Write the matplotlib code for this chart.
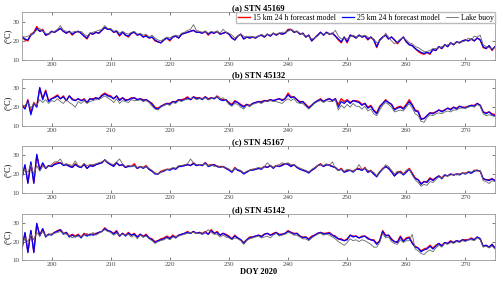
import matplotlib
matplotlib.use("Agg")
import matplotlib.pyplot as plt
import numpy as np

plt.rcParams['font.family'] = ['Liberation Serif', 'DejaVu Serif']

# day of year, half-day steps 195 .. 275
doy = np.arange(195, 275.01, 0.5)

stations = ["(a) STN 45169", "(b) STN 45132", "(c) STN 45167", "(d) STN 45142"]
labels = ["15 km 24 h forecast model", "25 km 24 h forecast model", "Lake buoy"]

# --- (a) STN 45169
a_red = [22.0, 20.5, 20.0, 23.5, 24.5, 27.5, 25.0, 26.0, 23.0, 23.5,
         25.0, 24.5, 25.5, 26.5, 25.0, 24.0, 25.0, 23.0, 24.5, 25.0,
         24.0, 22.5, 21.0, 24.0, 23.5, 24.5, 24.0, 25.5, 27.0, 26.0,
         26.0, 24.5, 25.0, 22.5, 24.5, 23.0, 22.0, 24.0, 24.5, 23.0,
         23.5, 22.0, 23.0, 21.5, 22.0, 20.0, 19.5, 19.0, 20.5, 21.5,
         20.0, 22.0, 22.5, 21.5, 23.5, 24.0, 24.5, 25.0, 25.5, 24.5,
         24.5, 24.0, 25.0, 23.0, 24.5, 24.0, 25.0, 23.5, 24.0, 24.5,
         23.5, 21.5, 20.5, 22.5, 23.5, 21.0, 22.0, 21.5, 22.0, 21.5,
         22.5, 23.0, 22.0, 23.5, 22.5, 24.0, 23.0, 24.0, 23.5, 24.0,
         26.0, 26.0, 24.5, 25.0, 23.5, 24.0, 22.0, 23.0, 20.0, 21.5,
         23.0, 24.5, 23.0, 24.5, 23.5, 24.0, 22.5, 20.5, 19.0, 22.0,
         19.0, 23.0, 22.5, 21.5, 23.0, 22.0, 22.5, 20.5, 22.0, 20.5,
         16.5, 20.5, 22.0, 23.0, 21.0, 22.0, 20.5, 18.5, 20.5, 22.0,
         19.5, 18.0, 17.5, 16.0, 14.5, 13.5, 13.0, 14.0, 13.0, 15.5,
         15.0, 17.0, 16.0, 18.0, 17.0, 19.0, 18.0, 19.5, 19.0, 20.0,
         20.5, 20.0, 21.0, 20.0, 21.5, 20.5, 16.5, 16.0, 17.5, 15.0,
         17.0]
a_blue = [22.0, 21.0, 20.5, 23.0, 24.0, 26.5, 25.0, 25.5, 23.0, 23.5,
          25.0, 24.5, 25.5, 26.5, 25.0, 24.0, 25.0, 23.5, 24.5, 25.0,
          24.0, 22.5, 21.5, 24.0, 23.5, 24.5, 24.0, 25.5, 27.0, 26.0,
          26.0, 24.5, 25.0, 23.0, 24.5, 23.0, 22.5, 24.0, 24.5, 23.0,
          23.5, 22.0, 22.5, 21.5, 22.0, 20.5, 19.5, 19.0, 20.5, 21.5,
          20.5, 22.0, 22.5, 21.5, 23.5, 24.0, 24.5, 25.0, 25.5, 24.5,
          24.5, 24.0, 25.0, 23.5, 24.5, 24.0, 25.0, 23.5, 24.0, 24.5,
          23.5, 21.5, 20.5, 22.5, 23.5, 21.0, 22.0, 21.5, 22.0, 21.5,
          22.5, 23.0, 22.0, 23.5, 22.5, 24.0, 23.0, 24.0, 23.5, 24.0,
          25.5, 26.0, 24.5, 25.0, 23.5, 24.0, 22.0, 23.0, 20.0, 21.5,
          23.0, 24.5, 23.0, 24.5, 23.5, 24.0, 22.5, 21.0, 19.5, 22.0,
          19.5, 23.0, 22.5, 21.5, 23.0, 22.0, 22.5, 21.0, 22.0, 20.5,
          17.0, 20.5, 22.0, 23.0, 21.0, 22.0, 20.5, 19.0, 20.5, 22.0,
          19.5, 18.0, 17.5, 16.0, 15.0, 14.0, 13.5, 14.0, 13.5, 15.5,
          15.0, 17.0, 16.0, 18.0, 17.0, 19.0, 18.0, 19.5, 19.0, 20.0,
          20.5, 20.0, 21.0, 20.0, 21.5, 20.5, 17.0, 16.0, 17.5, 15.5,
          17.0]
a_buoy = [22.5, 22.0, 22.5, 23.0, 24.5, 25.5, 26.5, 25.0, 24.0, 23.5,
          24.5, 25.0, 26.0, 28.0, 25.5, 25.0, 24.5, 24.5, 25.0, 24.5,
          25.0, 23.5, 22.5, 24.0, 24.5, 25.0, 25.5, 26.0, 28.0, 26.5,
          26.5, 25.0, 25.5, 24.0, 25.0, 24.0, 23.5, 24.5, 25.0, 23.5,
          24.0, 23.0, 23.5, 22.0, 23.0, 21.5, 20.5, 20.0, 21.0, 22.0,
          21.5, 22.5, 23.0, 22.5, 24.0, 24.5, 25.5, 26.0, 28.5, 25.5,
          25.0, 24.5, 25.0, 24.0, 25.0, 24.5, 25.0, 24.0, 26.0, 24.5,
          24.0, 23.0, 21.5, 22.5, 23.5, 22.5, 22.0, 22.5, 22.0, 22.0,
          22.5, 23.5, 22.5, 23.5, 23.0, 24.0, 23.5, 24.0, 24.5, 24.5,
          25.0, 26.0, 25.0, 25.0, 24.0, 23.5, 22.5, 22.5, 21.0, 21.5,
          22.5, 24.0, 23.5, 24.0, 24.0, 23.5, 25.5, 22.5, 21.0, 21.5,
          21.0, 22.0, 23.0, 22.0, 22.5, 22.5, 23.0, 22.0, 21.5, 21.0,
          19.0, 20.0, 21.5, 24.0, 22.0, 20.0, 18.5, 19.5, 21.0, 21.5,
          20.5, 19.0, 18.5, 17.0, 16.5, 15.5, 14.5, 14.5, 15.0, 16.0,
          16.0, 16.5, 17.0, 17.5, 18.0, 18.5, 18.5, 19.0, 19.5, 19.5,
          20.0, 21.5, 20.5, 22.5, 22.0, 23.0, 18.0, 17.0, 16.5, 16.0,
          16.5]

# --- (b) STN 45132
b_red = [21.5, 19.5, 24.0, 17.0, 22.5, 20.5, 30.0, 24.5, 29.0, 23.5,
         24.5, 25.5, 26.5, 24.5, 26.0, 23.5, 26.0, 24.5, 23.5, 24.5,
         23.5, 24.5, 22.5, 24.5, 24.5, 25.0, 24.5, 26.5, 27.5, 26.5,
         26.0, 24.5, 26.0, 24.0, 25.0, 24.0, 24.0, 25.0, 25.0, 24.0,
         24.5, 24.0, 24.0, 23.0, 22.0, 20.0, 19.5, 20.5, 21.5, 22.0,
         22.0, 23.0, 23.0, 24.0, 24.0, 24.5, 25.5, 24.0, 25.5, 25.0,
         25.0, 24.5, 25.5, 24.5, 25.0, 24.5, 26.0, 24.5, 24.0, 24.0,
         22.5, 21.5, 23.5, 22.5, 21.5, 20.5, 21.5, 21.0, 22.0, 22.5,
         23.0, 23.0, 23.5, 23.5, 24.0, 23.5, 24.0, 24.5, 24.0, 24.5,
         27.5, 25.5, 25.5, 24.0, 23.0, 23.0, 21.5, 20.0, 21.0, 22.5,
         23.5, 24.5, 23.0, 24.0, 24.5, 23.5, 24.5, 21.5, 24.5, 23.0,
         24.0, 22.5, 23.5, 23.5, 23.0, 21.5, 22.0, 20.0, 21.0, 18.5,
         17.0, 20.5, 22.0, 24.0, 22.5, 21.5, 19.0, 20.0, 20.5, 19.5,
         21.5, 24.0, 21.5, 18.5, 18.0, 14.0, 14.0, 15.5, 17.0, 17.0,
         17.5, 18.5, 18.0, 18.5, 19.5, 19.0, 20.0, 19.5, 20.5, 20.0,
         20.0, 20.5, 21.0, 21.0, 22.0, 21.0, 17.5, 17.0, 17.5, 16.5,
         16.0]
b_blue = [21.0, 19.0, 23.5, 16.0, 22.0, 20.0, 30.5, 24.0, 28.5, 23.0,
          24.5, 25.0, 26.0, 24.5, 25.5, 23.5, 26.0, 24.0, 23.5, 24.5,
          23.5, 24.0, 22.5, 24.5, 24.0, 25.0, 24.5, 26.0, 27.0, 26.0,
          25.5, 24.5, 26.0, 23.5, 25.0, 23.5, 24.0, 24.5, 25.0, 24.0,
          24.5, 23.5, 24.0, 23.0, 21.5, 19.5, 19.0, 20.5, 21.0, 22.0,
          21.5, 23.0, 22.5, 24.0, 23.5, 24.0, 25.0, 24.0, 25.5, 24.5,
          25.0, 24.0, 25.5, 24.0, 25.0, 24.5, 25.5, 24.0, 23.5, 24.0,
          22.0, 21.0, 23.0, 22.5, 21.0, 20.0, 21.5, 20.5, 22.0, 22.5,
          23.0, 22.5, 23.5, 23.0, 24.0, 23.5, 24.0, 24.5, 23.5, 24.5,
          26.5, 25.0, 25.5, 24.0, 22.5, 23.0, 21.0, 19.5, 21.0, 22.5,
          23.5, 24.0, 23.0, 24.0, 24.5, 23.5, 24.5, 20.0, 23.0, 22.0,
          23.5, 22.0, 23.5, 23.0, 22.5, 21.0, 22.0, 19.5, 20.5, 18.0,
          16.5, 20.0, 22.0, 23.5, 22.5, 21.5, 18.5, 19.5, 20.0, 19.0,
          21.0, 23.0, 21.0, 18.0, 17.5, 13.5, 14.0, 15.5, 17.0, 16.5,
          17.5, 18.5, 17.5, 18.5, 19.5, 18.5, 20.0, 19.0, 20.5, 20.0,
          19.5, 20.5, 21.0, 20.5, 22.0, 21.0, 17.5, 16.5, 17.5, 16.0,
          15.5]
b_buoy = [20.5, 21.0, 22.5, 19.5, 22.0, 21.0, 24.0, 22.5, 24.0, 22.0,
          23.5, 23.0, 24.5, 23.0, 22.0, 24.0, 22.5, 21.5, 20.0, 23.0,
          22.0, 23.5, 22.0, 23.0, 23.5, 24.0, 24.0, 25.0, 26.0, 25.0,
          24.0, 22.5, 24.5, 22.0, 23.5, 23.0, 22.5, 24.0, 23.5, 23.5,
          24.0, 23.0, 23.5, 22.5, 20.5, 19.0, 18.5, 20.0, 21.0, 21.5,
          21.0, 22.5, 22.0, 23.5, 23.0, 24.0, 24.0, 24.5, 25.0, 24.0,
          24.5, 24.5, 25.0, 24.0, 24.5, 25.0, 25.5, 24.5, 25.0, 23.5,
          21.5, 20.5, 22.0, 21.5, 20.0, 19.0, 21.0, 20.5, 21.5, 22.0,
          22.5, 22.0, 23.0, 23.0, 23.5, 23.0, 23.0, 22.5, 22.0, 23.5,
          24.5, 23.5, 24.5, 22.5, 22.0, 22.0, 20.5, 19.0, 20.5, 22.0,
          23.0, 23.5, 22.5, 23.5, 23.0, 23.0, 24.0, 18.5, 21.0, 19.5,
          21.5, 20.0, 22.0, 20.5, 20.5, 19.0, 20.5, 18.0, 19.0, 16.5,
          15.5, 18.5, 21.0, 22.5, 21.5, 20.0, 17.5, 18.0, 18.5, 18.0,
          20.0, 22.0, 19.5, 16.5, 15.5, 12.5, 12.0, 14.5, 16.0, 15.5,
          16.5, 17.0, 16.5, 17.5, 18.0, 17.5, 18.5, 18.5, 19.5, 19.5,
          19.5, 20.0, 20.5, 20.0, 21.5, 20.5, 16.5, 15.5, 16.0, 15.5,
          15.0]

# --- (c) STN 45167
c_red = [18.5, 24.5, 15.5, 26.0, 15.5, 30.0, 22.5, 25.5, 23.0, 24.5,
         24.0, 25.5, 26.0, 26.0, 25.0, 25.0, 24.5, 23.5, 25.5, 24.0,
         23.5, 25.5, 23.0, 24.5, 24.5, 25.0, 25.5, 26.0, 27.5, 26.0,
         25.0, 24.5, 26.0, 24.5, 25.0, 23.5, 24.5, 24.0, 25.5, 23.0,
         24.0, 23.5, 24.5, 22.5, 21.5, 20.5, 20.0, 21.5, 22.0, 22.5,
         22.5, 23.0, 23.0, 24.0, 24.5, 24.5, 25.0, 24.5, 26.0, 24.5,
         25.0, 24.5, 26.0, 24.5, 25.0, 25.0, 24.0, 24.0, 24.0, 23.0,
         22.5, 21.0, 23.5, 22.0, 21.5, 20.5, 21.0, 22.0, 22.5, 22.5,
         23.0, 23.0, 24.0, 23.5, 24.5, 23.5, 24.5, 24.0, 25.0, 25.5,
         25.5, 24.0, 25.0, 23.5, 23.0, 22.0, 21.5, 21.0, 22.0, 23.0,
         24.5, 25.5, 24.0, 25.0, 25.0, 24.0, 23.5, 22.0, 23.0, 21.0,
         22.0, 22.0, 21.5, 22.5, 23.0, 22.0, 23.5, 21.0, 22.0, 20.0,
         19.0, 21.0, 23.0, 24.0, 23.0, 21.5, 19.0, 21.0, 21.5, 20.0,
         21.5, 23.0, 20.5, 18.0, 17.0, 15.0, 16.0, 16.0, 18.0, 17.0,
         18.0, 19.0, 18.0, 19.5, 19.0, 20.0, 19.5, 20.0, 20.0, 20.5,
         20.5, 21.0, 20.5, 22.0, 22.0, 21.5, 17.5, 17.0, 17.0, 17.5,
         16.5]
c_blue = [18.0, 25.0, 15.0, 26.5, 15.0, 30.5, 22.0, 26.0, 23.0, 24.5,
          24.0, 25.0, 25.5, 26.0, 24.5, 25.0, 24.0, 23.5, 25.0, 24.0,
          23.5, 25.0, 23.0, 24.5, 24.0, 25.0, 25.5, 26.0, 27.5, 26.0,
          25.0, 24.0, 26.0, 24.5, 25.0, 23.5, 24.0, 24.0, 24.5, 23.0,
          24.0, 23.0, 24.0, 22.5, 21.5, 20.0, 20.0, 21.0, 21.5, 22.5,
          22.0, 23.0, 22.5, 24.0, 24.0, 24.5, 25.0, 24.5, 25.5, 24.5,
          25.0, 24.5, 26.0, 24.0, 24.5, 25.0, 24.0, 23.5, 24.0, 23.0,
          22.0, 21.0, 23.0, 22.0, 21.5, 20.0, 21.0, 22.0, 22.0, 22.5,
          23.0, 22.5, 24.0, 23.5, 24.5, 23.0, 24.5, 24.0, 24.5, 25.5,
          25.0, 24.0, 25.0, 23.5, 22.5, 22.0, 21.5, 20.5, 22.0, 23.0,
          24.5, 25.0, 24.0, 25.0, 24.5, 24.0, 23.5, 22.0, 22.5, 21.0,
          21.5, 22.0, 21.0, 22.5, 22.5, 22.0, 23.0, 21.0, 21.5, 20.0,
          18.5, 21.0, 22.5, 24.0, 23.0, 21.0, 19.0, 20.5, 21.0, 19.5,
          21.0, 22.5, 20.0, 17.5, 17.0, 14.5, 16.0, 15.5, 17.5, 16.5,
          18.0, 19.0, 17.5, 19.5, 19.0, 20.0, 19.5, 20.0, 19.5, 20.5,
          20.0, 21.0, 20.5, 21.5, 22.0, 21.5, 17.5, 17.0, 16.5, 17.5,
          16.5]
c_buoy = [20.0, 22.5, 21.0, 25.0, 20.0, 24.5, 21.5, 24.0, 23.5, 24.0,
          25.0, 26.5, 26.5, 28.0, 25.0, 25.5, 25.0, 24.5, 27.0, 24.5,
          24.0, 25.5, 24.5, 25.0, 25.0, 25.5, 26.0, 26.5, 27.5, 26.5,
          25.5, 25.0, 26.5, 28.0, 25.5, 24.0, 24.5, 24.0, 24.5, 23.5,
          24.0, 23.5, 24.0, 23.0, 22.0, 20.5, 20.0, 21.0, 22.0, 22.5,
          22.5, 23.5, 23.0, 24.5, 24.5, 25.0, 25.5, 28.0, 26.0, 25.0,
          25.0, 25.0, 25.5, 24.5, 25.0, 24.0, 24.5, 23.5, 24.0, 23.5,
          22.5, 21.5, 23.0, 22.5, 22.0, 20.5, 21.5, 22.0, 22.5, 23.0,
          23.5, 23.0, 24.0, 26.0, 24.5, 23.5, 24.5, 25.0, 26.0, 25.5,
          26.0, 25.0, 25.0, 24.0, 23.0, 22.5, 22.0, 21.0, 22.5, 23.5,
          24.5, 25.0, 24.5, 25.5, 24.5, 26.5, 23.0, 22.0, 22.5, 21.5,
          22.5, 22.0, 21.5, 22.5, 25.0, 22.5, 23.0, 22.0, 21.5, 21.0,
          19.0, 21.5, 22.5, 25.0, 24.0, 22.0, 20.0, 21.5, 20.5, 20.0,
          22.0, 22.5, 19.5, 17.0, 15.5, 13.5, 14.5, 14.0, 16.0, 15.5,
          17.0, 18.5, 18.0, 19.0, 19.0, 19.5, 20.0, 19.5, 20.0, 20.5,
          20.0, 21.5, 21.0, 22.0, 21.5, 22.0, 16.5, 16.0, 15.0, 16.5,
          16.0]

# --- (d) STN 45142
d_red = [16.5, 24.5, 14.5, 26.0, 14.5, 29.5, 23.5, 27.0, 23.0, 24.0,
         24.0, 25.0, 26.0, 26.5, 24.5, 25.0, 23.0, 24.0, 23.0, 24.0,
         22.5, 24.5, 23.5, 24.0, 24.0, 24.5, 25.0, 25.5, 27.5, 26.0,
         25.5, 24.5, 26.0, 23.0, 24.5, 23.5, 25.0, 23.5, 24.5, 22.5,
         24.0, 23.0, 24.0, 22.0, 21.5, 20.0, 20.5, 21.5, 22.0, 23.0,
         22.0, 23.5, 22.5, 23.5, 24.0, 24.5, 25.5, 24.5, 25.5, 24.5,
         25.0, 24.5, 25.5, 24.0, 26.5, 24.5, 25.5, 23.5, 24.5, 24.0,
         23.0, 21.5, 23.5, 22.0, 21.0, 19.5, 21.0, 22.5, 22.5, 23.0,
         23.5, 23.0, 24.0, 24.5, 23.5, 24.5, 25.0, 24.0, 24.0, 24.5,
         26.0, 25.0, 24.5, 24.5, 23.0, 22.5, 22.5, 21.5, 23.0, 23.5,
         24.5, 25.0, 24.5, 24.5, 25.0, 23.5, 23.0, 21.5, 21.5, 20.5,
         21.5, 23.5, 23.0, 23.0, 22.0, 23.0, 23.0, 22.0, 21.0, 21.0,
         19.0, 20.5, 26.0, 23.5, 23.5, 21.5, 20.0, 20.0, 23.0, 20.5,
         22.0, 22.5, 19.5, 17.5, 16.5, 15.0, 16.0, 16.5, 18.0, 16.5,
         18.0, 19.0, 18.0, 19.5, 19.0, 20.5, 19.5, 20.5, 20.0, 21.0,
         21.0, 21.0, 22.0, 21.0, 22.5, 21.5, 17.5, 18.0, 17.0, 18.5,
         16.5]
d_blue = [16.0, 25.0, 14.0, 26.0, 14.0, 30.0, 23.0, 27.0, 22.5, 24.0,
          23.5, 25.0, 25.5, 26.5, 24.0, 25.0, 22.5, 23.5, 22.5, 23.5,
          22.0, 24.0, 23.0, 24.0, 23.5, 24.0, 25.0, 25.5, 27.0, 26.0,
          25.5, 24.0, 25.5, 23.0, 24.5, 23.0, 24.5, 23.5, 24.0, 22.5,
          24.0, 22.5, 23.5, 22.0, 21.0, 19.5, 20.5, 21.0, 21.5, 22.5,
          21.5, 23.0, 22.0, 23.5, 24.0, 24.5, 25.0, 24.5, 25.5, 24.5,
          25.0, 24.0, 25.0, 24.0, 26.0, 24.5, 25.0, 23.5, 24.5, 23.5,
          22.5, 21.5, 23.0, 22.0, 21.0, 19.0, 21.0, 22.0, 22.5, 23.0,
          23.5, 22.5, 24.0, 24.5, 23.5, 24.0, 25.0, 23.5, 24.0, 24.5,
          25.5, 25.0, 24.0, 24.5, 23.0, 22.0, 22.5, 21.0, 22.5, 23.5,
          24.5, 25.0, 24.0, 24.5, 24.5, 23.5, 22.5, 21.5, 21.0, 20.5,
          21.0, 23.5, 22.5, 23.0, 22.0, 22.5, 23.0, 21.5, 21.0, 20.5,
          18.5, 20.5, 25.5, 23.0, 23.5, 21.0, 20.0, 19.5, 22.5, 20.0,
          21.5, 22.0, 19.0, 17.0, 16.5, 14.5, 15.5, 16.0, 17.5, 16.0,
          17.5, 19.0, 17.5, 19.5, 19.0, 20.0, 19.5, 20.5, 20.0, 21.0,
          20.5, 21.0, 21.5, 21.0, 22.5, 21.5, 17.5, 18.0, 17.0, 18.5,
          16.5]
d_buoy = [18.0, 22.0, 20.0, 24.0, 21.0, 25.0, 23.0, 25.5, 23.0, 23.5,
          24.0, 24.5, 25.0, 25.5, 24.5, 24.0, 23.5, 22.0, 23.0, 23.0,
          22.5, 23.5, 24.5, 23.0, 25.0, 23.5, 24.5, 25.5, 26.5, 25.5,
          25.0, 23.5, 24.5, 23.5, 24.0, 23.5, 24.0, 22.5, 23.5, 21.5,
          23.5, 22.5, 23.0, 21.5, 20.5, 19.0, 20.0, 20.5, 21.0, 22.0,
          21.0, 22.5, 22.5, 23.0, 23.5, 24.0, 24.5, 25.0, 25.0, 24.5,
          24.5, 24.0, 25.0, 26.5, 25.0, 24.0, 24.0, 22.5, 23.5, 22.5,
          22.0, 21.0, 22.0, 21.5, 20.5, 18.5, 20.5, 21.5, 22.0, 22.5,
          23.0, 22.0, 22.5, 23.0, 22.0, 23.5, 24.5, 23.0, 23.5, 24.0,
          25.0, 24.5, 23.5, 23.5, 22.5, 21.5, 21.5, 20.5, 22.0, 23.0,
          24.0, 24.5, 23.5, 24.0, 23.5, 22.5, 21.5, 20.0, 19.0, 18.0,
          19.5, 21.5, 20.5, 21.0, 20.0, 21.0, 20.5, 19.5, 18.5, 17.0,
          17.0, 19.5, 24.5, 22.0, 22.5, 20.0, 19.0, 18.5, 21.0, 19.5,
          20.5, 20.5, 24.0, 16.0, 15.0, 13.5, 13.0, 14.5, 15.5, 14.5,
          16.5, 18.0, 17.0, 19.0, 18.5, 19.5, 19.0, 20.0, 19.5, 20.5,
          20.0, 21.0, 21.0, 20.5, 22.0, 21.0, 17.0, 17.5, 16.5, 17.5,
          16.0]

red_all = [a_red, b_red, c_red, d_red]
blue_all = [a_blue, b_blue, c_blue, d_blue]
buoy_all = [a_buoy, b_buoy, c_buoy, d_buoy]

fig = plt.figure(figsize=(5, 2.82), dpi=100)

# axes boxes in figure fractions (left, bottom, width, height)
boxes = [(0.044, 0.787, 0.946, 0.170),
         (0.044, 0.553, 0.946, 0.167),
         (0.044, 0.316, 0.946, 0.167),
         (0.044, 0.078, 0.946, 0.163)]

for i in range(4):
    ax = fig.add_axes(boxes[i])
    ax.plot(doy, red_all[i], color='red', lw=1.0, label=labels[0])
    ax.plot(doy, blue_all[i], color='blue', lw=0.9, label=labels[1])
    ax.plot(doy, buoy_all[i], color='#666666', lw=0.6, label=labels[2])
    ax.set_xlim(195, 275)
    ax.set_ylim(10, 35)
    ax.set_yticks([10, 20, 30])
    ax.set_xticks(np.arange(200, 271, 10))
    ax.tick_params(direction='in', length=2, width=0.5, labelsize=5,
                   top=True, right=True, pad=1.5, colors='#444444')
    for s in ax.spines.values():
        s.set_color('#999999')
        s.set_linewidth(0.6)
    ax.set_title(stations[i], fontsize=6.2, fontweight='bold', pad=1.5)
    ax.set_ylabel('(°C)', fontsize=6, labelpad=1)
    if i == 0:
        ax.legend(loc='upper right', ncol=3, fontsize=5.6, frameon=True,
                  fancybox=False, edgecolor='#bbbbbb', handlelength=1.6,
                  handletextpad=0.3, columnspacing=0.8, borderpad=0.2,
                  borderaxespad=0.0, framealpha=1)
    if i == 3:
        ax.set_xlabel('DOY 2020', fontsize=6, fontweight='bold', labelpad=1)

fig.savefig('out.png', dpi=100)
